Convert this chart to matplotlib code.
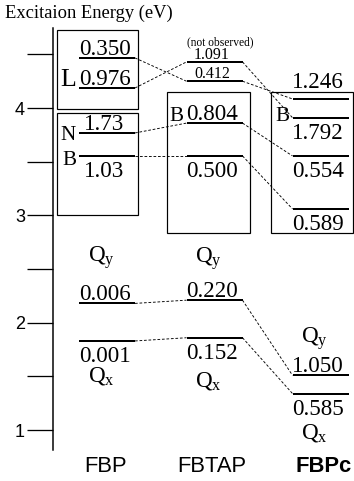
import matplotlib
matplotlib.use("Agg")
import matplotlib.pyplot as plt
from matplotlib.patches import Rectangle

plt.rcParams['font.family'] = ['Liberation Serif', 'DejaVu Serif']
plt.rcParams['mathtext.fontset'] = 'custom'
plt.rcParams['mathtext.rm'] = 'Liberation Serif'

# level energies (eV) and oscillator strengths
columns = ['FBP', 'FBTAP', 'FBPc']
fbp_E = [4.467, 4.187, 3.768, 3.554, 2.18, 1.83]
fbp_f = ['0.350', '0.976', '1.73', '1.03', '0.006', '0.001']
fbtap_E = [4.43, 4.25, 3.86, 3.554, 2.21, 1.86]
fbtap_f = ['1.091', '0.412', '0.804', '0.500', '0.220', '0.152']
fbpc_E = [4.085, 3.91, 3.554, 3.06, 1.51, 1.34]
fbpc_f = ['1.246', '1.792', '0.554', '0.589', '1.050', '0.585']
levels_E = [fbp_E, fbtap_E, fbpc_E]
levels_f = [fbp_f, fbtap_f, fbpc_f]
# which level of the next column each level connects to
links = [[1, 0, 2, 3, 4, 5], [1, 0, 2, 3, 4, 5]]
# label side: 1 above, -1 below
sides = [[1, 1, 1, -1, 1, -1], [1, 1, 1, -1, 1, -1], [1, -1, -1, -1, 1, -1]]
small = [[], [0, 1], []]
# band letters: (column, level index, letter, baseline offset px, size)
letters = [(0, 1, 'L', 2, 26), (0, 2, 'N', -7, 21), (0, 3, 'B', -9, 21),
           (1, 2, 'B', 2, 21), (2, 1, 'B', -3, 21)]
yticks = [1, 2, 3, 4]
yminor = [1.5, 2.5, 3.5, 4.5]

# layout (pixels, dpi 72 so points == pixels)
W, H = 354, 481
col_x = [107, 214.5, 320.5]
name_x = [106, 212, 324]
half = 28
q_off = [(41, -41), (37, -49), (32, -46)]
boxes = [(57, 138, 4.73, 3.99), (57, 138, 3.954, 3.004),
         (167, 250, 4.15, 2.836), (271, 353, 4.15, 2.836)]

fig = plt.figure(figsize=(W / 72, H / 72), dpi=72)
ax = fig.add_axes([53 / W, (H - 450) / H, (W - 53) / W, 422 / H])
ax.set_xlim(53, W)
ax.set_ylim(0.814, 4.746)
for s in ['top', 'right', 'bottom']:
    ax.spines[s].set_visible(False)
ax.spines['left'].set_linewidth(1.5)
ax.set_yticks(yticks)
ax.set_yticks(yminor, minor=True)
ax.tick_params(axis='y', which='both', direction='out', length=26, width=1.3, pad=2)
ax.set_yticklabels([str(t) for t in yticks], family='Liberation Sans', fontsize=18)
ax.set_xticks(name_x)
ax.set_xticklabels(columns, family='Liberation Sans', fontsize=22)
ax.tick_params(axis='x', length=0, pad=6)
ax.get_xticklabels()[2].set_fontweight('bold')

fig.text(5 / W, 1 - 13 / H, 'Excitaion Energy (eV)', fontsize=18.5, va='center', ha='left')

for x0, x1, e0, e1 in boxes:
    ax.add_patch(Rectangle((x0, e1), x1 - x0, e0 - e1, fill=False, lw=1.2,
                           ec='black', clip_on=False))

for c, (Es, fs) in enumerate(zip(levels_E, levels_f)):
    x = col_x[c]
    ax.hlines(Es, x - half, x + half, colors='black', lw=2, clip_on=False)
    for i, (e, f) in enumerate(zip(Es, fs)):
        sz = 16 if i in small[c] else 23
        dy = 3 if sides[c][i] > 0 else -21
        if c == 2 and i == 0:
            dy = 11
        ax.annotate(f, (x - 2.5, e), xytext=(0, dy), textcoords='offset points',
                    ha='center', va='baseline', fontsize=sz, annotation_clip=False)
    up, dn = q_off[c]
    ax.annotate('Q$_\\mathrm{y}$', (x - 6, Es[4]), xytext=(0, up), textcoords='offset points',
                ha='center', va='baseline', fontsize=23, annotation_clip=False)
    ax.annotate('Q$_\\mathrm{x}$', (x - 6, Es[5]), xytext=(0, dn), textcoords='offset points',
                ha='center', va='baseline', fontsize=23, annotation_clip=False)

ax.annotate('(not observed)', (col_x[1] + 6, fbtap_E[0]), xytext=(0, 17),
            textcoords='offset points', ha='center', va='baseline', fontsize=11.5,
            annotation_clip=False)

for c, lk in enumerate(links):
    for i, j in enumerate(lk):
        ax.plot([col_x[c] + half, col_x[c + 1] - half], [levels_E[c][i], levels_E[c + 1][j]],
                ls=(0, (3, 2)), color='black', lw=0.9, clip_on=False)

for c, i, t, dy, sz in letters:
    x = col_x[c] - half - 3
    ax.annotate(t, (x, levels_E[c][i]), xytext=(0, dy), textcoords='offset points',
                ha='right', va='baseline', fontsize=sz, annotation_clip=False)

fig.savefig('out.png', dpi=72)
